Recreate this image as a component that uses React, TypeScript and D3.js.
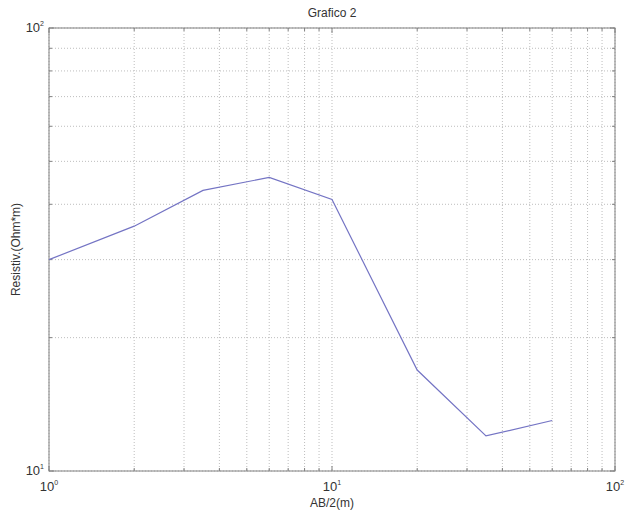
import React, { useEffect, useRef } from 'react';
import * as d3 from 'd3';

const abHalf = [1, 2, 3.5, 6, 10, 20, 35, 60];
const resistivity = [30, 35.7, 43, 46, 41, 16.9, 12, 13];
const xDecades = [0, 1, 2];
const yDecades = [1, 2];

const W = 635;
const H = 514;
const margin = { top: 28, right: 20, bottom: 43, left: 49 };

export default function App() {
  const ref = useRef<SVGSVGElement>(null);

  useEffect(() => {
    const svg = d3.select(ref.current);
    svg.selectAll('*').remove();
    const width = W - margin.left - margin.right;
    const height = H - margin.top - margin.bottom;
    const font = 'Liberation Sans, Arial, sans-serif';

    const x = d3.scaleLog().domain([1, 100]).range([0, width]);
    const y = d3.scaleLog().domain([10, 100]).range([height, 0]);

    const g = svg.append('g').attr('transform', `translate(${margin.left},${margin.top})`);

    g.append('rect').attr('width', width).attr('height', height).attr('fill', '#fff');

    const xt = x.ticks();
    const yt = y.ticks();

    // grid
    g.selectAll('.gx').data(xt).enter().append('line')
      .attr('x1', d => x(d)).attr('x2', d => x(d))
      .attr('y1', 0).attr('y2', height)
      .attr('stroke', '#bdbdbd').attr('stroke-dasharray', '1,2');
    g.selectAll('.gy').data(yt).enter().append('line')
      .attr('y1', d => y(d)).attr('y2', d => y(d))
      .attr('x1', 0).attr('x2', width)
      .attr('stroke', '#bdbdbd').attr('stroke-dasharray', '1,2');

    // ticks on all four sides, pointing in
    const isMajor = (d: number) => Math.abs(Math.log10(d) - Math.round(Math.log10(d))) < 1e-9;
    xt.forEach(d => {
      const len = isMajor(d) ? 5 : 3;
      g.append('line').attr('x1', x(d)).attr('x2', x(d)).attr('y1', height).attr('y2', height - len).attr('stroke', '#808080');
      g.append('line').attr('x1', x(d)).attr('x2', x(d)).attr('y1', 0).attr('y2', len).attr('stroke', '#808080');
    });
    yt.forEach(d => {
      const len = isMajor(d) ? 5 : 3;
      g.append('line').attr('y1', y(d)).attr('y2', y(d)).attr('x1', 0).attr('x2', len).attr('stroke', '#808080');
      g.append('line').attr('y1', y(d)).attr('y2', y(d)).attr('x1', width).attr('x2', width - len).attr('stroke', '#808080');
    });

    g.append('rect').attr('width', width).attr('height', height)
      .attr('fill', 'none').attr('stroke', '#808080').attr('stroke-width', 1);

    // data line
    const line = d3.line<number>()
      .x((_, i) => x(abHalf[i]))
      .y(d => y(d));
    g.append('path').datum(resistivity)
      .attr('d', line)
      .attr('fill', 'none')
      .attr('stroke', '#7474c4')
      .attr('stroke-width', 1.2);

    // tick labels
    xDecades.forEach(e => {
      const t = g.append('text').attr('x', x(Math.pow(10, e)))
        .attr('y', height + 20).attr('text-anchor', 'middle')
        .attr('font-family', font).attr('font-size', 13).attr('fill', '#333');
      t.append('tspan').text('10');
      t.append('tspan').attr('dy', -6).attr('font-size', 7).text(String(e));
    });
    yDecades.forEach(e => {
      const t = g.append('text').attr('x', -5)
        .attr('y', y(Math.pow(10, e)) + 4).attr('text-anchor', 'end')
        .attr('font-family', font).attr('font-size', 13).attr('fill', '#333');
      t.append('tspan').text('10');
      t.append('tspan').attr('dy', -6).attr('font-size', 7).text(String(e));
    });

    // title and axis labels
    svg.append('text').attr('x', margin.left + width / 2).attr('y', 17)
      .attr('text-anchor', 'middle').attr('font-family', font).attr('font-size', 12)
      .attr('fill', '#333').text('Grafico 2');
    svg.append('text').attr('x', margin.left + width / 2).attr('y', 507)
      .attr('text-anchor', 'middle').attr('font-family', font).attr('font-size', 12)
      .attr('fill', '#333').text('AB/2(m)');
    svg.append('text')
      .attr('transform', `translate(20,${margin.top + height / 2}) rotate(-90)`)
      .attr('text-anchor', 'middle').attr('font-family', font).attr('font-size', 12)
      .attr('fill', '#333').text('Resistiv.(Ohm*m)');
  }, []);

  return (
    <svg ref={ref} width={W} height={H} style={{ position: 'absolute', left: 0, top: 0, background: '#fff' }} />
  );
}
